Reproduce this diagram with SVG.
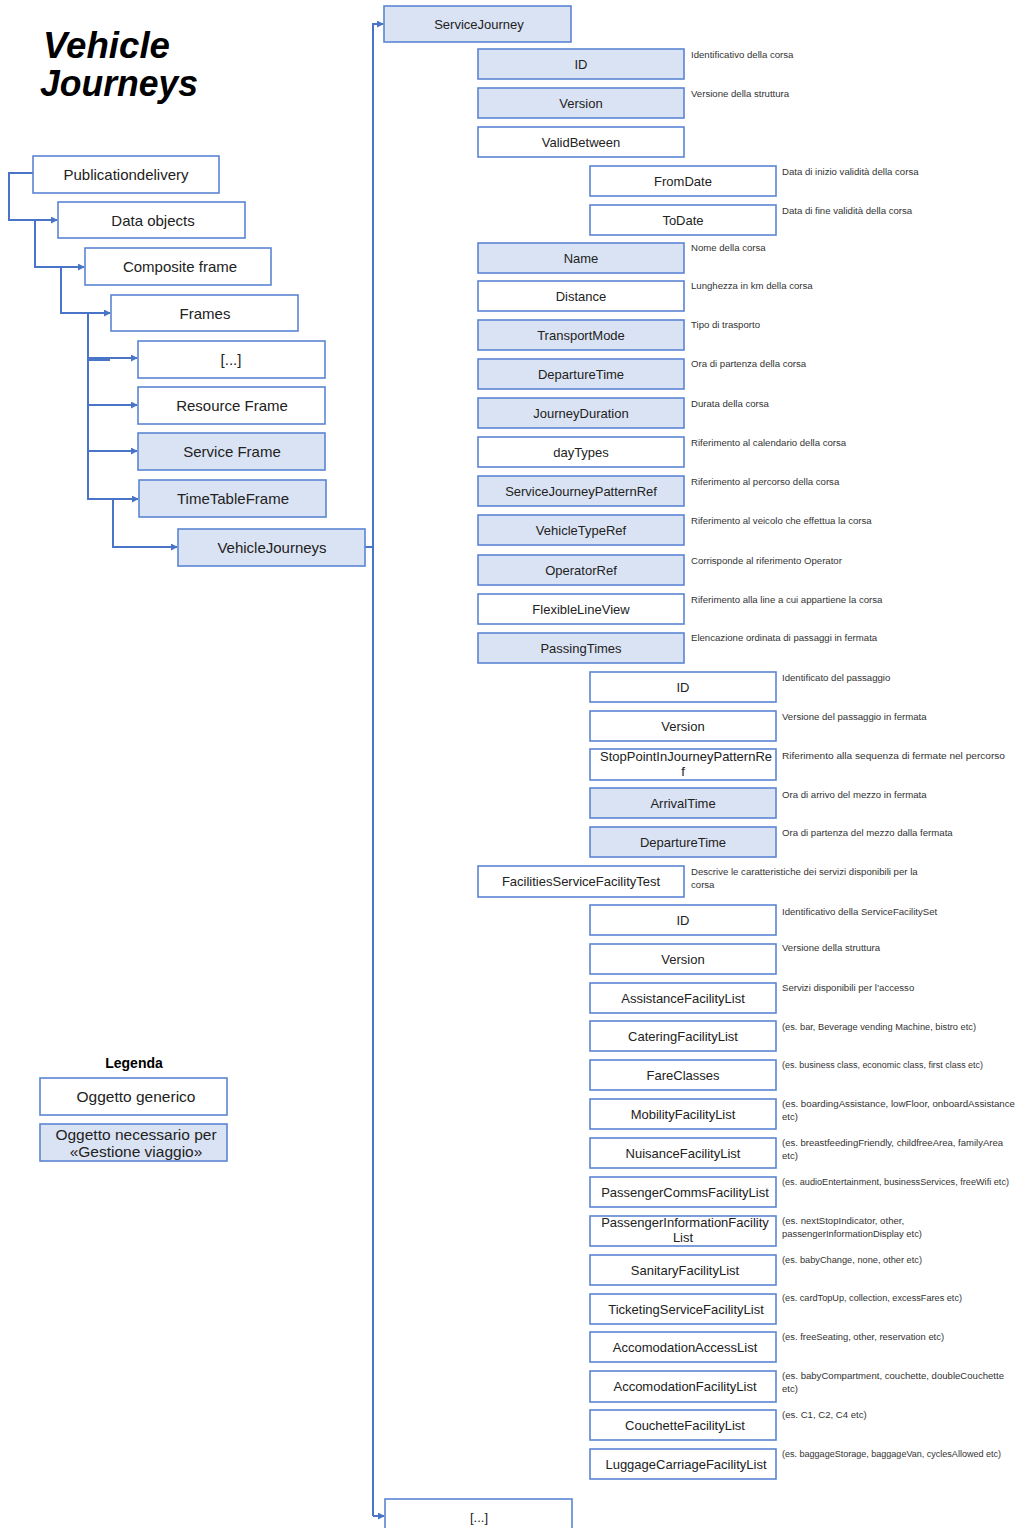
<svg xmlns="http://www.w3.org/2000/svg" width="1018" height="1528" viewBox="0 0 1018 1528">
<defs>
<style>
.b{fill:#fff;stroke:#5b85d3;stroke-width:1.6}
.r{fill:#dae3f3}
.t{font-family:"Liberation Sans",Arial,sans-serif;font-size:13px;fill:#222;text-anchor:middle}
.lt{font-size:15px}
.lg{font-size:15.5px}
.d{font-family:"Liberation Sans",Arial,sans-serif;font-size:9.6px;fill:#333}
.c{fill:none;stroke:#4a74c8;stroke-width:2}
.ti{font-family:"Liberation Sans",Arial,sans-serif;font-size:36px;font-weight:bold;font-style:italic;fill:#000}
</style>
<marker id="a" viewBox="0 0 8 8" refX="7" refY="4" markerWidth="7" markerHeight="7" markerUnits="userSpaceOnUse" orient="auto"><path d="M0,0 L8,4 L0,8 z" fill="#4a74c8"/></marker>
</defs>
<rect width="1018" height="1528" fill="#fff"/>
<g id="title"><text class="ti" x="43" y="58" textLength="127" lengthAdjust="spacingAndGlyphs">Vehicle</text><text class="ti" x="40" y="96" textLength="158" lengthAdjust="spacingAndGlyphs">Journeys</text></g>

<g id="connectors">
<path class="c" d="M33,173 H9 V220 H57" marker-end="url(#a)"/>
<path class="c" d="M35,220 V267 H84" marker-end="url(#a)"/>
<path class="c" d="M61,267 V313 H110" marker-end="url(#a)"/>
<path class="c" d="M88,313 V499 H138" marker-end="url(#a)"/>
<path class="c" d="M88,358 H137" marker-end="url(#a)"/>
<path class="c" d="M88,360 H110"/>
<path class="c" d="M88,405 H137" marker-end="url(#a)"/>
<path class="c" d="M88,451 H137" marker-end="url(#a)"/>
<path class="c" d="M113,499 V547 H177" marker-end="url(#a)"/>
<path class="c" d="M365,547 H373"/>
<path class="c" d="M373,1516 V24 H383" marker-end="url(#a)"/>
<path class="c" d="M373,1516 H384" marker-end="url(#a)"/>
</g>

<g id="n-publicationdelivery"><rect class="b" x="33" y="156" width="186" height="37"/><text class="t lt" x="126" y="179.5">Publicationdelivery</text></g>
<g id="n-dataobjects"><rect class="b" x="58" y="202" width="187" height="36"/><text class="t lt" x="153" y="225.5">Data objects</text></g>
<g id="n-compositeframe"><rect class="b" x="85" y="248" width="186" height="37"/><text class="t lt" x="180" y="271.5">Composite frame</text></g>
<g id="n-frames"><rect class="b" x="111" y="295" width="187" height="36"/><text class="t lt" x="205" y="318.5">Frames</text></g>
<g id="n-frames-more"><rect class="b" x="138" y="341" width="187" height="37"/><text class="t lt" x="231" y="364.5">[...]</text></g>
<g id="n-resourceframe"><rect class="b" x="138" y="387" width="187" height="37"/><text class="t lt" x="232" y="410.5">Resource Frame</text></g>
<g id="n-serviceframe"><rect class="b r" x="138" y="433" width="187" height="37"/><text class="t lt" x="232" y="456.5">Service Frame</text></g>
<g id="n-timetableframe"><rect class="b r" x="139" y="480" width="187" height="37"/><text class="t lt" x="233" y="503.5">TimeTableFrame</text></g>
<g id="n-vehiclejourneys"><rect class="b r" x="178" y="529" width="187" height="37"/><text class="t lt" x="272" y="552.5">VehicleJourneys</text></g>

<g id="legend">
<text x="134" y="1068" style="font-family:'Liberation Sans',Arial,sans-serif;font-size:14px;font-weight:bold;fill:#000" text-anchor="middle">Legenda</text>
<g id="legend-generic"><rect class="b" x="40" y="1078" width="187" height="37"/><text class="t lg" x="136" y="1101.5">Oggetto generico</text></g>
<g id="legend-required"><rect class="b r" x="40" y="1124" width="187" height="37"/><text class="t lg" x="136" y="1140">Oggetto necessario per</text><text class="t lg" x="136" y="1157">«Gestione viaggio»</text></g>
</g>

<g id="n-servicejourney"><rect class="b r" x="384" y="6" width="187" height="36"/><text class="t" x="479" y="29">ServiceJourney</text></g>

<g id="n-id"><rect class="b r" x="478" y="49" width="206" height="30"/><text class="t" x="581" y="68.5">ID</text><text class="d" x="691" y="58">Identificativo della corsa</text></g>
<g id="n-version"><rect class="b r" x="478" y="88" width="206" height="30"/><text class="t" x="581" y="107.5">Version</text><text class="d" x="691" y="97">Versione della struttura</text></g>
<g id="n-validbetween"><rect class="b" x="478" y="127" width="206" height="30"/><text class="t" x="581" y="146.5">ValidBetween</text></g>
<g id="n-fromdate"><rect class="b" x="590" y="166" width="186" height="30"/><text class="t" x="683" y="185.5">FromDate</text><text class="d" x="782" y="175">Data di inizio validità della corsa</text></g>
<g id="n-todate"><rect class="b" x="590" y="205" width="186" height="30"/><text class="t" x="683" y="224.5">ToDate</text><text class="d" x="782" y="214">Data di fine validità della corsa</text></g>
<g id="n-name"><rect class="b r" x="478" y="243" width="206" height="30"/><text class="t" x="581" y="262.5">Name</text><text class="d" x="691" y="251">Nome della corsa</text></g>
<g id="n-distance"><rect class="b" x="478" y="281" width="206" height="30"/><text class="t" x="581" y="300.5">Distance</text><text class="d" x="691" y="289">Lunghezza in km della corsa</text></g>
<g id="n-transportmode"><rect class="b r" x="478" y="320" width="206" height="30"/><text class="t" x="581" y="339.5">TransportMode</text><text class="d" x="691" y="328">Tipo di trasporto</text></g>
<g id="n-departuretime"><rect class="b r" x="478" y="359" width="206" height="30"/><text class="t" x="581" y="378.5">DepartureTime</text><text class="d" x="691" y="367">Ora di partenza della corsa</text></g>
<g id="n-journeyduration"><rect class="b r" x="478" y="398" width="206" height="30"/><text class="t" x="581" y="417.5">JourneyDuration</text><text class="d" x="691" y="407">Durata della corsa</text></g>
<g id="n-daytypes"><rect class="b" x="478" y="437" width="206" height="30"/><text class="t" x="581" y="456.5">dayTypes</text><text class="d" x="691" y="446">Riferimento al calendario della corsa</text></g>
<g id="n-servicejourneypatternref"><rect class="b r" x="478" y="476" width="206" height="30"/><text class="t" x="581" y="495.5">ServiceJourneyPatternRef</text><text class="d" x="691" y="485">Riferimento al percorso della corsa</text></g>
<g id="n-vehicletyperef"><rect class="b r" x="478" y="515" width="206" height="30"/><text class="t" x="581" y="534.5">VehicleTypeRef</text><text class="d" x="691" y="524">Riferimento al veicolo che effettua la corsa</text></g>
<g id="n-operatorref"><rect class="b r" x="478" y="555" width="206" height="30"/><text class="t" x="581" y="574.5">OperatorRef</text><text class="d" x="691" y="564">Corrisponde al riferimento Operator</text></g>
<g id="n-flexiblelineview"><rect class="b" x="478" y="594" width="206" height="30"/><text class="t" x="581" y="613.5">FlexibleLineView</text><text class="d" x="691" y="603">Riferimento alla line a cui appartiene la corsa</text></g>
<g id="n-passingtimes"><rect class="b r" x="478" y="633" width="206" height="30"/><text class="t" x="581" y="652.5">PassingTimes</text><text class="d" x="691" y="641">Elencazione ordinata di passaggi in fermata</text></g>

<g id="n-pt-id"><rect class="b" x="590" y="672" width="186" height="30"/><text class="t" x="683" y="691.5">ID</text><text class="d" x="782" y="681">Identificato del passaggio</text></g>
<g id="n-pt-version"><rect class="b" x="590" y="711" width="186" height="30"/><text class="t" x="683" y="730.5">Version</text><text class="d" x="782" y="720">Versione del passaggio in fermata</text></g>
<g id="n-pt-stoppoint"><rect class="b" x="590" y="749" width="186" height="31"/><text class="t" x="686" y="760.5">StopPointInJourneyPatternRe</text><text class="t" x="683" y="776">f</text><text class="d" x="782" y="759" textLength="223" lengthAdjust="spacingAndGlyphs">Riferimento alla sequenza di fermate nel percorso</text></g>
<g id="n-pt-arrivaltime"><rect class="b r" x="590" y="788" width="186" height="30"/><text class="t" x="683" y="807.5">ArrivalTime</text><text class="d" x="782" y="798">Ora di arrivo del mezzo in fermata</text></g>
<g id="n-pt-departuretime"><rect class="b r" x="590" y="827" width="186" height="30"/><text class="t" x="683" y="846.5">DepartureTime</text><text class="d" x="782" y="836">Ora di partenza del mezzo dalla fermata</text></g>

<g id="n-facilities"><rect class="b" x="478" y="866" width="206" height="31"/><text class="t" x="581" y="886">FacilitiesServiceFacilityTest</text><text class="d" x="691" y="875">Descrive le caratteristiche dei servizi disponibili per la</text><text class="d" x="691" y="888">corsa</text></g>

<g id="n-f-id"><rect class="b" x="590" y="905" width="186" height="30"/><text class="t" x="683" y="924.5">ID</text><text class="d" x="782" y="915">Identificativo della ServiceFacilitySet</text></g>
<g id="n-f-version"><rect class="b" x="590" y="944" width="186" height="30"/><text class="t" x="683" y="963.5">Version</text><text class="d" x="782" y="951">Versione della struttura</text></g>
<g id="n-f-assistance"><rect class="b" x="590" y="983" width="186" height="30"/><text class="t" x="683" y="1002.5">AssistanceFacilityList</text><text class="d" x="782" y="991">Servizi disponibili per l’accesso</text></g>
<g id="n-f-catering"><rect class="b" x="590" y="1021" width="186" height="30"/><text class="t" x="683" y="1040.5">CateringFacilityList</text><text class="d" x="782" y="1030" textLength="194" lengthAdjust="spacingAndGlyphs">(es. bar, Beverage vending Machine, bistro etc)</text></g>
<g id="n-f-fareclasses"><rect class="b" x="590" y="1060" width="186" height="30"/><text class="t" x="683" y="1079.5">FareClasses</text><text class="d" x="782" y="1068" textLength="201" lengthAdjust="spacingAndGlyphs">(es. business class, economic class, first class etc)</text></g>
<g id="n-f-mobility"><rect class="b" x="590" y="1099" width="186" height="30"/><text class="t" x="683" y="1118.5">MobilityFacilityList</text><text class="d" x="782" y="1107" textLength="233" lengthAdjust="spacingAndGlyphs">(es. boardingAssistance, lowFloor, onboardAssistance</text><text class="d" x="782" y="1120">etc)</text></g>
<g id="n-f-nuisance"><rect class="b" x="590" y="1138" width="186" height="30"/><text class="t" x="683" y="1157.5">NuisanceFacilityList</text><text class="d" x="782" y="1146" textLength="221" lengthAdjust="spacingAndGlyphs">(es. breastfeedingFriendly, childfreeArea, familyArea</text><text class="d" x="782" y="1159">etc)</text></g>
<g id="n-f-passengercomms"><rect class="b" x="590" y="1177" width="186" height="30"/><text class="t" x="685" y="1196.5">PassengerCommsFacilityList</text><text class="d" x="782" y="1185" textLength="227" lengthAdjust="spacingAndGlyphs">(es. audioEntertainment, businessServices, freeWifi etc)</text></g>
<g id="n-f-passengerinfo"><rect class="b" x="590" y="1216" width="186" height="30"/><text class="t" x="685" y="1227">PassengerInformationFacility</text><text class="t" x="683" y="1242">List</text><text class="d" x="782" y="1224">(es. nextStopIndicator, other,</text><text class="d" x="782" y="1237" textLength="140" lengthAdjust="spacingAndGlyphs">passengerInformationDisplay etc)</text></g>
<g id="n-f-sanitary"><rect class="b" x="590" y="1255" width="186" height="30"/><text class="t" x="685" y="1274.5">SanitaryFacilityList</text><text class="d" x="782" y="1263" textLength="140" lengthAdjust="spacingAndGlyphs">(es. babyChange, none, other etc)</text></g>
<g id="n-f-ticketing"><rect class="b" x="590" y="1294" width="186" height="30"/><text class="t" x="686" y="1313.5">TicketingServiceFacilityList</text><text class="d" x="782" y="1301" textLength="180" lengthAdjust="spacingAndGlyphs">(es. cardTopUp, collection, excessFares etc)</text></g>
<g id="n-f-accomaccess"><rect class="b" x="590" y="1332" width="186" height="30"/><text class="t" x="685" y="1351.5">AccomodationAccessList</text><text class="d" x="782" y="1340" textLength="162" lengthAdjust="spacingAndGlyphs">(es. freeSeating, other, reservation etc)</text></g>
<g id="n-f-accomfacility"><rect class="b" x="590" y="1371" width="186" height="31"/><text class="t" x="685" y="1391">AccomodationFacilityList</text><text class="d" x="782" y="1379" textLength="222" lengthAdjust="spacingAndGlyphs">(es. babyCompartment, couchette, doubleCouchette</text><text class="d" x="782" y="1392">etc)</text></g>
<g id="n-f-couchette"><rect class="b" x="590" y="1410" width="186" height="30"/><text class="t" x="685" y="1429.5">CouchetteFacilityList</text><text class="d" x="782" y="1418">(es. C1, C2, C4 etc)</text></g>
<g id="n-f-luggage"><rect class="b" x="590" y="1449" width="186" height="30"/><text class="t" x="686" y="1468.5">LuggageCarriageFacilityList</text><text class="d" x="782" y="1457" textLength="219" lengthAdjust="spacingAndGlyphs">(es. baggageStorage, baggageVan, cyclesAllowed etc)</text></g>

<g id="n-more"><rect class="b" x="385" y="1499" width="187" height="40"/><text class="t" x="479" y="1522">[...]</text></g>
</svg>
